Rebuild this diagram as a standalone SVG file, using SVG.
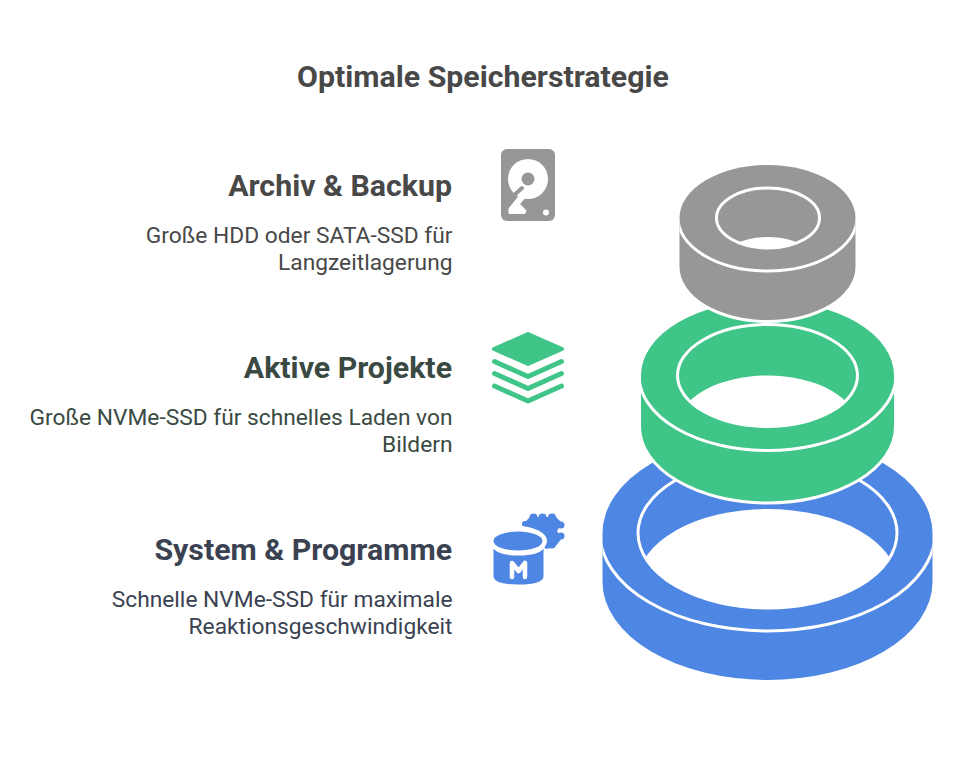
<svg xmlns="http://www.w3.org/2000/svg" width="954" height="766" viewBox="0 0 954 766">
<style>
text{font-family:Roboto,"Liberation Sans",sans-serif}
.t{font-size:30.300px;font-weight:700;fill:#484848;text-anchor:middle}
.h{font-size:30.300px;font-weight:700;text-anchor:end}
.d{font-size:22.750px;text-anchor:end}
.halo{stroke:#fff;stroke-width:6;paint-order:stroke}
.ln{fill:none;stroke:#fff;stroke-width:3}
</style>
<defs>
<clipPath id="cb"><ellipse cx="767.500" cy="533" rx="129.500" ry="75"/></clipPath>
<clipPath id="cg"><ellipse cx="767.500" cy="375.500" rx="90" ry="51"/></clipPath>
<clipPath id="cy"><ellipse cx="768" cy="218" rx="51.500" ry="30"/></clipPath>
<clipPath id="sb"><path d="M602.500 533A165 98 0 0 1 932.500 533V582A165 98 0 0 1 602.500 582Z"/></clipPath>
<clipPath id="sg"><path d="M641 375.500A126.500 75 0 0 1 894 375.500V426.500A126.500 75 0 0 1 641 426.500Z"/></clipPath>
<clipPath id="sy"><path d="M679.500 218A88 53 0 0 1 855.500 218V267A88 53 0 0 1 679.500 267Z"/></clipPath>
</defs>
<rect width="954" height="766" fill="#fff"/>
<text class="t" x="483" y="87">Optimale Speicherstrategie</text>
<g id="ring-blue">
<path fill="#4e86e4" d="M602.500 533A165 98 0 0 1 932.500 533V582A165 98 0 0 1 602.500 582Z"/>
<path class="ln" clip-path="url(#sb)" d="M600 533A167.500 98 0 0 0 935 533"/>
<ellipse class="ln" cx="767.500" cy="533" rx="129.500" ry="75"/>
<ellipse cx="767.500" cy="582" rx="129.500" ry="73" fill="#fff" clip-path="url(#cb)"/>
</g>
<g id="ring-green">
<path class="halo" fill="#3fc587" d="M641 375.500A126.500 75 0 0 1 894 375.500V426.500A126.500 75 0 0 1 641 426.500Z"/>
<path class="ln" clip-path="url(#sg)" d="M639 375.500A128.500 75 0 0 0 896 375.500"/>
<ellipse class="ln" cx="767.500" cy="375.500" rx="90" ry="51"/>
<ellipse cx="767.500" cy="426.500" rx="90" ry="51" fill="#fff" clip-path="url(#cg)"/>
</g>
<g id="ring-gray">
<path class="halo" fill="#979797" d="M679.500 218A88 53 0 0 1 855.500 218V267A88 53 0 0 1 679.500 267Z"/>
<path class="ln" clip-path="url(#sy)" d="M678 218A89.500 53 0 0 0 857 218"/>
<ellipse class="ln" cx="768" cy="218" rx="51.500" ry="30"/>
<ellipse cx="768" cy="267" rx="51.500" ry="30" fill="#fff" clip-path="url(#cy)"/>
</g>
<g id="node-archiv">
<text class="h" x="452" y="196" fill="#484848">Archiv &amp; Backup</text>
<text class="d" x="452.500" y="242.500" fill="#484848">Große HDD oder SATA-SSD für</text>
<text class="d" x="452.500" y="269.500" fill="#484848">Langzeitlagerung</text>
<rect x="501" y="149" width="54" height="72" rx="6" fill="#979797"/>
<circle cx="528" cy="179" r="20" fill="#fff"/>
<circle cx="528" cy="179" r="6.500" fill="#979797"/>
<path d="M522 188L510 199" stroke="#979797" stroke-width="4" stroke-linecap="round"/>
<path d="M519 196L509 208.500V213.500H525L526 210.500L519.500 204L525 198Z" fill="#fff" stroke="#fff" stroke-linejoin="round"/>
<circle cx="546" cy="212.500" r="3" fill="#fff"/>
</g>
<g id="node-projekte">
<text class="h" x="452" y="378" fill="#3a4a42">Aktive Projekte</text>
<text class="d" x="452.500" y="424.500" fill="#3a4a42">Große NVMe-SSD für schnelles Laden von</text>
<text class="d" x="452.500" y="451.500" fill="#3a4a42">Bildern</text>
<path d="M528 334L562 349L528 364L494 349Z" fill="#3fc587" stroke="#3fc587" stroke-width="4" stroke-linejoin="round"/>
<path d="M494.500 361.500l33.500 15 33.500-15M494.500 373.500l33.500 15 33.500-15M494.500 386l33.500 15 33.500-15" fill="none" stroke="#3fc587" stroke-width="5" stroke-linecap="round" stroke-linejoin="round"/>
</g>
<g id="node-system">
<text class="h" x="452" y="560" fill="#3a4252">System &amp; Programme</text>
<text class="d" x="452.500" y="606.500" fill="#3a4252">Schnelle NVMe-SSD für maximale</text>
<text class="d" x="452.500" y="633.500" fill="#3a4252">Reaktionsgeschwindigkeit</text>
<g fill="#4e86e4">
<path d="M523 524L530 517H556L562 523L557 531L562 538L555 547L546 549L530 532Z"/>
<circle cx="533.500" cy="517.500" r="4"/><circle cx="542.500" cy="517.500" r="4"/><circle cx="552" cy="517.500" r="4"/>
<circle cx="561" cy="525" r="3.500"/><circle cx="561" cy="536" r="3.500"/><circle cx="552" cy="545" r="3.500"/><circle cx="525" cy="524" r="3"/>
</g>
<ellipse cx="518" cy="541" rx="29" ry="15" fill="#fff"/>
<ellipse cx="518" cy="541" rx="24.500" ry="9.500" fill="#4e86e4"/>
<path d="M493.500 548.500v28q1 8 25 8t25-8v-28q-5 7-25 7t-25-7Z" fill="#4e86e4"/>
<path d="M512 577v-14l6.500 8 6.500-8v14" fill="none" stroke="#fff" stroke-width="4.500" stroke-linecap="round" stroke-linejoin="round"/>
</g>
</svg>
